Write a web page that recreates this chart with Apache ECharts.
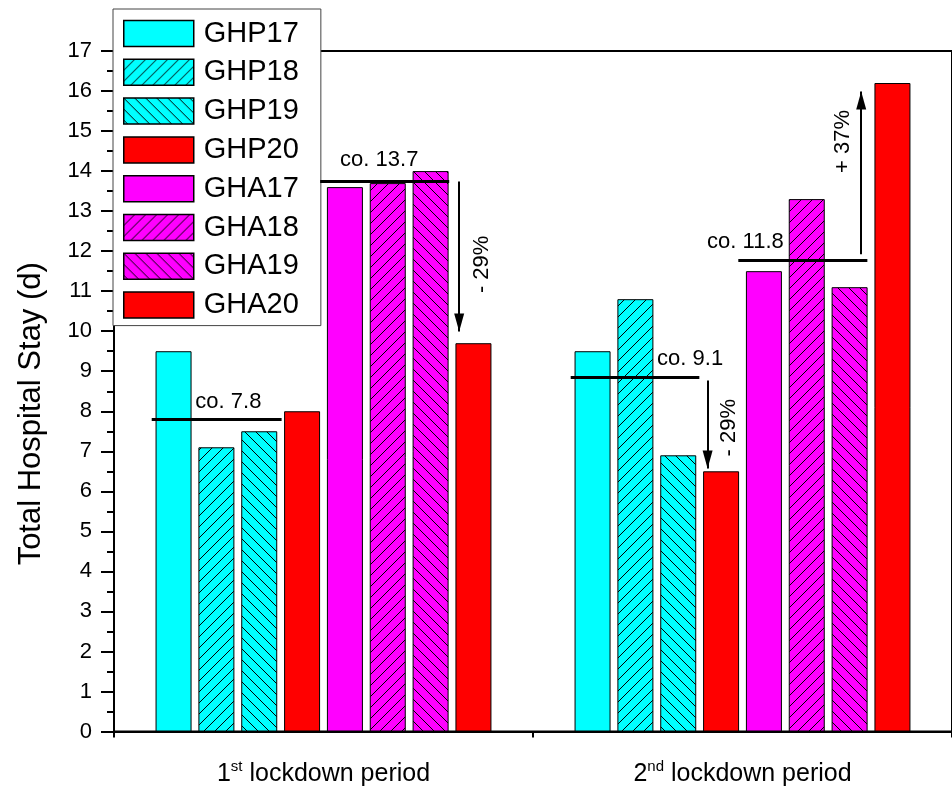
<!DOCTYPE html>
<html>
<head>
<meta charset="utf-8">
<script src="https://cdn.jsdelivr.net/npm/echarts@6/dist/echarts.min.js"></script>
<style>
html,body{margin:0;padding:0;background:#fff;}
#chart{width:952px;height:787px;}
</style>
</head>
<body>
<div id="chart"></div>
<script>
// ---- data ----
var categories = ['1st lockdown period', '2nd lockdown period'];
var seriesNames = ['GHP17', 'GHP18', 'GHP19', 'GHP20', 'GHA17', 'GHA18', 'GHA19', 'GHA20'];
var GHP17 = [9.5, 9.5];
var GHP18 = [7.1, 10.8];
var GHP19 = [7.5, 6.9];
var GHP20 = [8.0, 6.5];
var GHA17 = [13.6, 11.5];
var GHA18 = [13.7, 13.3];
var GHA19 = [14.0, 11.1];
var GHA20 = [9.7, 16.2];
var yTicks = [0, 17, 1];
// reference lines: [xStart, xEnd, y] (x in category units, 0 = first group centre)
var refLines = [[-0.41, -0.10, 7.81], [-0.008, 0.30, 13.75], [0.59, 0.897, 8.85], [0.99, 1.298, 11.77]];
// arrows: [x, yFrom, yTo]
var arrows = [[0.3238, 13.74, 9.99], [0.9167, 8.77, 6.57], [1.2833, 11.92, 15.99]];
// annotation texts: [text, x, y, rotate]
var notes = [
  ['co. 7.8', -0.227, 8.24, 0],
  ['co. 13.7', 0.133, 14.27, 0],
  ['- 29%', 0.377, 11.67, 90],
  ['co. 9.1', 0.875, 9.315, 0],
  ['- 29%', 0.967, 7.59, 90],
  ['co. 11.8', 1.007, 12.23, 0],
  ['+ 37%', 1.2405, 14.74, 90]
];

// ---- styles ----
var CYAN = '#00FFFF', RED = '#FF0000', MAG = '#FF00FF';
function hatch(base, dir) {
  var c = document.createElement('canvas');
  var s = 11;
  c.width = s; c.height = s;
  var g = c.getContext('2d');
  g.fillStyle = base; g.fillRect(0, 0, s, s);
  g.strokeStyle = '#000'; g.lineWidth = 1;
  g.beginPath();
  if (dir === '/') {
    g.moveTo(-1, s + 1); g.lineTo(s + 1, -1);
    g.moveTo(-1, 1); g.lineTo(1, -1);
    g.moveTo(s - 1, s + 1); g.lineTo(s + 1, s - 1);
  } else {
    g.moveTo(-1, -1); g.lineTo(s + 1, s + 1);
    g.moveTo(s - 1, -1); g.lineTo(s + 1, 1);
    g.moveTo(-1, s - 1); g.lineTo(1, s + 1);
  }
  g.stroke();
  return { image: c, repeat: 'repeat' };
}
var fills = [CYAN, hatch(CYAN, '/'), hatch(CYAN, '\\'), RED, MAG, hatch(MAG, '/'), hatch(MAG, '\\'), RED];
var valueSets = [GHP17, GHP18, GHP19, GHP20, GHA17, GHA18, GHA19, GHA20];
var FONT = 'Liberation Sans, Arial, sans-serif';

var series = seriesNames.map(function (n, i) {
  return {
    name: n, type: 'bar', xAxisIndex: 0, yAxisIndex: 0,
    data: valueSets[i],
    barWidth: 36, barGap: '19%',
    itemStyle: { color: fills[i], borderColor: '#000', borderWidth: 1 },
    emphasis: { disabled: true }, silent: true
  };
});

var mlData = [];
refLines.forEach(function (r) {
  mlData.push([
    { coord: [r[0], r[2]], symbol: 'none', lineStyle: { width: 3, color: '#000', type: 'solid' } },
    { coord: [r[1], r[2]], symbol: 'none' }
  ]);
});
arrows.forEach(function (a) {
  mlData.push([
    { coord: [a[0], a[1]], symbol: 'none', lineStyle: { width: 2, color: '#000', type: 'solid' } },
    { coord: [a[0], a[2]], symbol: 'triangle', symbolSize: [10, 18], symbolOffset: [0, 9] }
  ]);
});

series.push({
  name: 'notes', type: 'scatter', xAxisIndex: 2, yAxisIndex: 0,
  symbolSize: 1, itemStyle: { color: 'rgba(255,255,255,0)' },
  silent: true,
  data: notes.map(function (t) {
    return {
      value: [t[1], t[2]], name: t[0],
      label: { rotate: t[3] }
    };
  }),
  label: {
    show: true, position: 'inside', formatter: function (p) { return p.name; },
    color: '#000', opacity: 1, textBorderWidth: 0, textBorderColor: 'transparent',
    fontSize: 22, fontFamily: FONT, align: 'center', verticalAlign: 'middle'
  },
  markLine: {
    silent: true, animation: false,
    symbol: ['none', 'none'],
    label: { show: false },
    emphasis: { disabled: true },
    itemStyle: { color: '#000' },
    lineStyle: { color: '#000', type: 'solid' },
    data: mlData
  }
});

var chart = echarts.init(document.getElementById('chart'), null, { renderer: 'canvas' });
chart.setOption({
  animation: false,
  backgroundColor: '#fff',
  textStyle: { fontFamily: FONT },
  grid: { left: 114, top: 51, width: 840, height: 683, show: true, borderColor: '#000', borderWidth: 2 },
  legend: {
    data: seriesNames, orient: 'vertical', left: 113, top: 9,
    icon: 'rect',
    padding: [10, 22, 6, 10],
    itemWidth: 70, itemHeight: 26, itemGap: 9.8,
    backgroundColor: '#fff', borderColor: '#444', borderWidth: 1,
    selectedMode: false,
    itemStyle: { borderColor: '#000', borderWidth: 1.5 },
    textStyle: { fontSize: 29, color: '#000', fontFamily: FONT, lineHeight: 26, padding: [0, 0, 0, 5] }
  },
  xAxis: [
    {
      type: 'category', data: categories, position: 'bottom',
      axisLine: { lineStyle: { color: '#000', width: 2 } },
      axisTick: { alignWithLabel: true, length: 14, lineStyle: { color: '#000', width: 2 } },
      axisLabel: {
        margin: 28, color: '#000',
        formatter: function (v) {
          var m = v.match(/^(\d)(st|nd|rd|th) (.*)$/);
          return '{n|' + m[1] + '}{s|' + m[2] + '}{n| ' + m[3] + '}';
        },
        rich: {
          n: { fontSize: 25, lineHeight: 30, color: '#000', fontFamily: FONT },
          s: { fontSize: 15, lineHeight: 15, color: '#000', fontFamily: FONT, verticalAlign: 'top' }
        }
      },
      splitLine: { show: false }
    },
    {
      type: 'category', data: categories, position: 'bottom',
      axisLine: { show: false },
      axisTick: { show: true, length: 6, lineStyle: { color: '#000', width: 2 } },
      axisLabel: { show: false }, splitLine: { show: false }
    },
    { type: 'value', min: -0.5, max: 1.5, show: false, position: 'top' }
  ],
  yAxis: {
    type: 'value', min: yTicks[0], max: yTicks[1], interval: yTicks[2],
    name: 'Total Hospital Stay (d)', nameLocation: 'middle', nameGap: 67,
    nameTextStyle: { fontSize: 31, color: '#000', fontFamily: FONT, padding: [0, 45, 0, 0] },
    axisLine: { show: true, onZero: false, lineStyle: { color: '#000', width: 2 } },
    axisTick: { show: true, length: 13, lineStyle: { color: '#000', width: 2 } },
    minorTick: { show: true, splitNumber: 2, length: 7, lineStyle: { color: '#000', width: 2 } },
    axisLabel: { fontSize: 22, color: '#000', margin: 22, fontFamily: FONT },
    splitLine: { show: false }
  },
  series: series
});
</script>
</body>
</html>
